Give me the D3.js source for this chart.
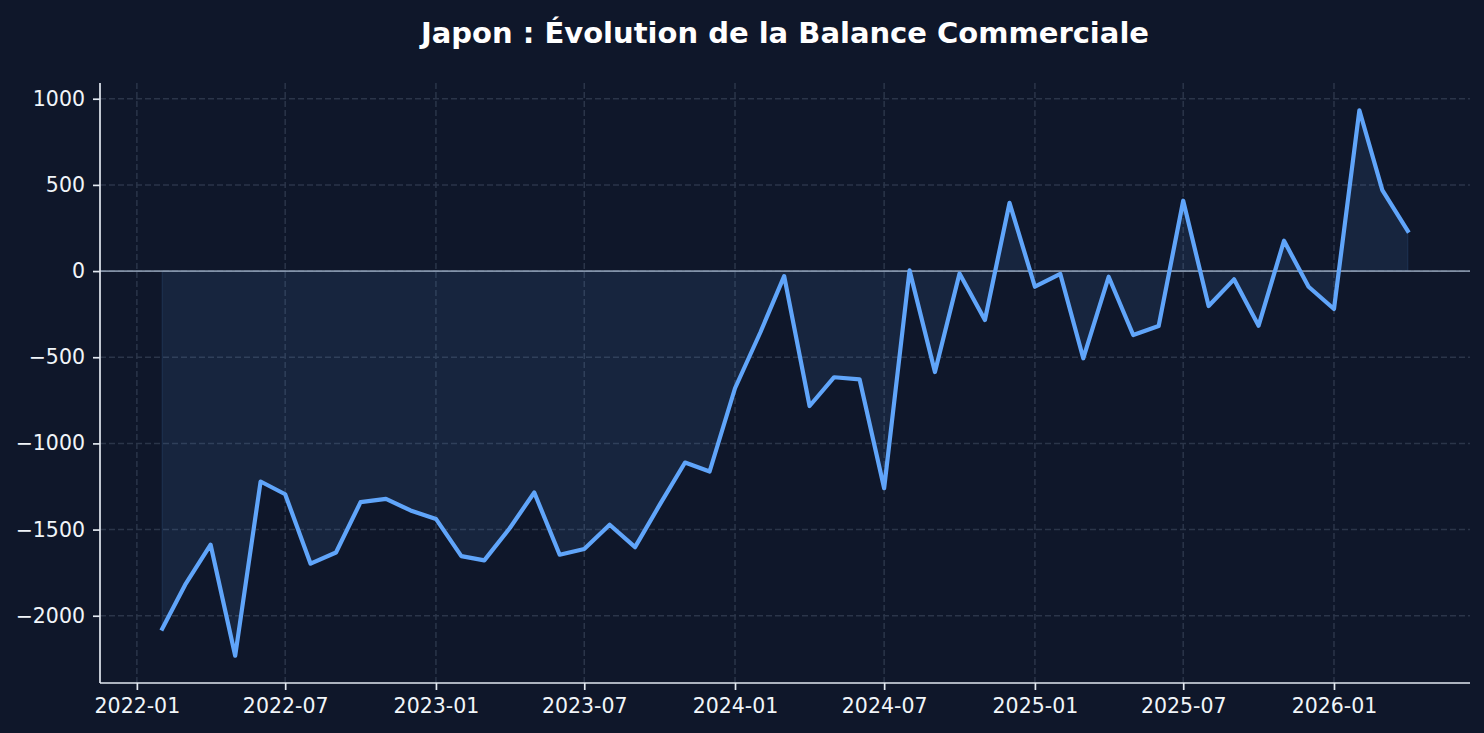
<!DOCTYPE html>
<html>
<head>
<meta charset="utf-8">
<script src="https://cdn.jsdelivr.net/npm/d3@7"></script>
<style>
  html, body { margin: 0; padding: 0; background: #0f172a; }
  svg { display: block; }
</style>
</head>
<body>
<svg id="chart" width="1484" height="733"></svg>
<script>
const months = [
  "2022-02","2022-03","2022-04","2022-05","2022-06","2022-07","2022-08","2022-09","2022-10","2022-11","2022-12",
  "2023-01","2023-02","2023-03","2023-04","2023-05","2023-06","2023-07","2023-08","2023-09","2023-10","2023-11","2023-12",
  "2024-01","2024-02","2024-03","2024-04","2024-05","2024-06","2024-07","2024-08","2024-09","2024-10","2024-11","2024-12",
  "2025-01","2025-02","2025-03","2025-04","2025-05","2025-06","2025-07","2025-08","2025-09","2025-10","2025-11","2025-12",
  "2026-01","2026-02","2026-03","2026-04"
];
const balance = [
  -2075,-1820,-1588,-2232,-1221,-1295,-1698,-1633,-1341,-1322,-1389,
  -1438,-1654,-1679,-1492,-1285,-1646,-1613,-1472,-1602,-1357,-1111,-1163,
  -680,-355,-29,-783,-616,-628,-1260,4,-586,-14,-284,396,
  -91,-17,-506,-33,-371,-319,408,-203,-48,-317,176,-91,
  -220,933,470,234
];
const yTicks = [-2000,-1500,-1000,-500,0,500,1000];
const title = "Japon : Évolution de la Balance Commerciale";

const parse = d3.utcParse("%Y-%m");
const data = months.map((m, i) => ({ date: parse(m), value: balance[i] }));

const W = 1484, H = 733;
const m = { left: 100, right: 14, top: 83, bottom: 50 };
const x0 = m.left, x1 = W - m.right, y0 = m.top, y1 = H - m.bottom;

const svg = d3.select("#chart");
svg.append("rect").attr("width", W).attr("height", H).attr("fill", "#0f172a");

// domains with 5% padding (matplotlib style)
const tExt = d3.extent(data, d => d.date);
const tSpan = tExt[1] - tExt[0];
const x = d3.scaleUtc()
  .domain([new Date(+tExt[0] - 0.05 * tSpan), new Date(+tExt[1] + 0.05 * tSpan)])
  .range([x0, x1]);
const vExt = d3.extent(data, d => d.value);
const vSpan = vExt[1] - vExt[0];
const y = d3.scaleLinear()
  .domain([vExt[0] - 0.05 * vSpan, vExt[1] + 0.05 * vSpan])
  .range([y1, y0]);

const xTicks = x.ticks(d3.utcMonth.every(6));
const gridColor = "#2b3549";

// grid
const grid = svg.append("g");
grid.selectAll(".gx").data(xTicks).join("line")
  .attr("x1", d => x(d)).attr("x2", d => x(d))
  .attr("y1", y0).attr("y2", y1)
  .attr("stroke", gridColor).attr("stroke-width", 1.5)
  .attr("stroke-dasharray", "6,3");
grid.selectAll(".gy").data(yTicks).join("line")
  .attr("x1", x0).attr("x2", x1)
  .attr("y1", d => y(d)).attr("y2", d => y(d))
  .attr("stroke", gridColor).attr("stroke-width", 1.5)
  .attr("stroke-dasharray", "6,3");

// area fill between 0 and value
const area = d3.area()
  .x(d => x(d.date))
  .y0(y(0))
  .y1(d => y(d.value));
svg.append("path").datum(data)
  .attr("d", area)
  .attr("fill", "#60a5fa").attr("fill-opacity", 0.1)
  .attr("stroke", "#60a5fa").attr("stroke-opacity", 0.1).attr("stroke-width", 1.5);

// zero line
svg.append("line")
  .attr("x1", x0).attr("x2", x1)
  .attr("y1", y(0)).attr("y2", y(0))
  .attr("stroke", "#94a3b8").attr("stroke-opacity", 0.85).attr("stroke-width", 1.7);

// main line
const line = d3.line().x(d => x(d.date)).y(d => y(d.value));
svg.append("path").datum(data)
  .attr("d", line)
  .attr("fill", "none")
  .attr("stroke", "#60a5fa")
  .attr("stroke-width", 4.2)
  .attr("stroke-linejoin", "round")
  .attr("stroke-linecap", "square");

// axes
const axisColor = "#e2e8f0";
const fmtY = d => d < 0 ? "\u2212" + Math.abs(d) : String(d);
const xAxis = svg.append("g").attr("transform", `translate(0,${y1})`)
  .call(d3.axisBottom(x).tickValues(xTicks).tickFormat(d3.utcFormat("%Y-%m")).tickSize(7).tickPadding(8).tickSizeOuter(0));
const yAxis = svg.append("g").attr("transform", `translate(${x0},0)`)
  .call(d3.axisLeft(y).tickValues(yTicks).tickFormat(fmtY).tickSize(7).tickPadding(8).tickSizeOuter(0));
[xAxis, yAxis].forEach(g => {
  g.select(".domain").attr("stroke", axisColor).attr("stroke-width", 1.7);
  g.selectAll(".tick line").attr("stroke", axisColor).attr("stroke-width", 1.7);
  g.selectAll(".tick text").attr("fill", "#f1f5f9")
    .attr("font-family", "DejaVu Sans").attr("font-size", 20.5);
});
xAxis.select(".domain").attr("d", `M${x0},0H${x1}`);
yAxis.select(".domain").attr("d", `M0,${y1}V${y0}`);
xAxis.selectAll(".tick text").attr("dy", "0.72em");

// title
svg.append("text")
  .attr("x", (x0 + x1) / 2).attr("y", 43)
  .attr("text-anchor", "middle")
  .attr("font-family", "DejaVu Sans").attr("font-weight", "bold")
  .attr("font-size", 29).attr("fill", "#ffffff")
  .text(title);
</script>
</body>
</html>
